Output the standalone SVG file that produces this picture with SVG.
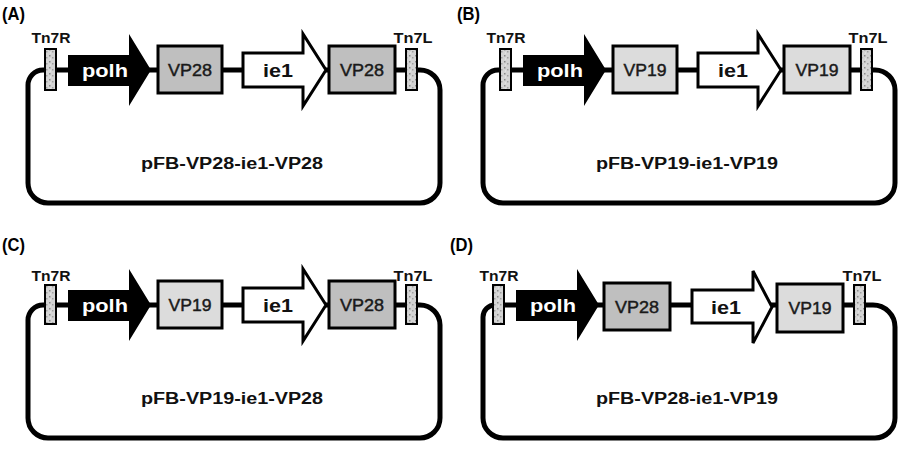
<svg xmlns="http://www.w3.org/2000/svg" width="902" height="449" viewBox="0 0 902 449">
<defs>
<pattern id="speck" width="6" height="6" patternUnits="userSpaceOnUse">
<rect width="6" height="6" fill="#d4d4d4"/>
<rect x="1" y="1" width="1.5" height="1.5" fill="#8a8a8a"/>
<rect x="4" y="3" width="1.5" height="1.5" fill="#a0a0a0"/>
<rect x="2" y="4.5" width="1" height="1" fill="#eeeeee"/>
</pattern>
</defs>
<style>
.bb{fill:none;stroke:#000;stroke-width:5}
.loop{fill:none;stroke:#000;stroke-width:5;stroke-linejoin:round}
.tn{fill:url(#speck);stroke:#000;stroke-width:2}
.polh{fill:#000}
.ie1{fill:#fff;stroke:#000;stroke-width:3;stroke-linejoin:miter}
.vp28{fill:#bfbfbf;stroke:#000;stroke-width:3}
.vp19{fill:#dcdcdc;stroke:#000;stroke-width:3}
text{font-family:"Liberation Sans",Arial,sans-serif}
.pl{font-size:18px;font-weight:bold;fill:#000}
.tl{font-size:15px;font-weight:bold;fill:#111;text-anchor:middle}
.wt{font-size:19px;font-weight:bold;fill:#fff;text-anchor:middle}
.bt{font-size:19px;font-weight:bold;fill:#111;text-anchor:middle}
.vt{font-size:17px;fill:#1a1a1a;stroke:#1a1a1a;stroke-width:0.45;text-anchor:middle}
.nm{font-size:16px;font-weight:bold;fill:#111;text-anchor:middle}
</style>

<g id="connectors">
  <g id="conn-A">
    <line class="bb" x1="55" y1="70" x2="406" y2="70"/>
    <path class="loop" d="M46,70 H43 A15,15 0 0 0 28,85 V183 A20,20 0 0 0 48,203 H420 A20,20 0 0 0 440,183 V90 A20,20 0 0 0 420,70 H417"/>
  </g>
  <g id="conn-B" transform="translate(455,0)">
    <line class="bb" x1="55" y1="70" x2="406" y2="70"/>
    <path class="loop" d="M46,70 H43 A15,15 0 0 0 28,85 V183 A20,20 0 0 0 48,203 H420 A20,20 0 0 0 440,183 V90 A20,20 0 0 0 420,70 H417"/>
  </g>
  <g id="conn-C" transform="translate(0,235)">
    <line class="bb" x1="55" y1="70" x2="406" y2="70"/>
    <path class="loop" d="M46,70 H43 A15,15 0 0 0 28,85 V183 A20,20 0 0 0 48,203 H420 A20,20 0 0 0 440,183 V90 A20,20 0 0 0 420,70 H417"/>
  </g>
  <g id="conn-D" transform="translate(455,235)">
    <line class="bb" x1="48" y1="70" x2="399" y2="70"/>
    <path class="loop" d="M40,70 A12,12 0 0 0 28,82 V183 A20,20 0 0 0 48,203 H420 A20,20 0 0 0 440,183 V92 A22,22 0 0 0 418,70 H410"/>
  </g>
</g>

<g id="panel-A">
  <text class="pl" x="2" y="20" textLength="23" lengthAdjust="spacingAndGlyphs">(A)</text>
  <g id="A-tn7r"><text class="tl" x="51" y="43" textLength="39" lengthAdjust="spacingAndGlyphs">Tn7R</text><rect class="tn" x="45" y="49" width="11" height="41"/></g>
  <g id="A-polh"><polygon class="polh" points="68,55 129,55 129,34 151,70 129,106 129,86 68,86"/><text class="wt" x="105" y="77" textLength="46" lengthAdjust="spacingAndGlyphs">polh</text></g>
  <g id="A-vp28a"><rect class="vp28" x="158" y="46" width="64" height="47"/><text class="vt" x="190" y="76" textLength="44" lengthAdjust="spacingAndGlyphs">VP28</text></g>
  <g id="A-ie1"><polygon class="ie1" points="243,53 303,53 303,34 326,70 303,106 303,87 243,87"/><text class="bt" x="278" y="77" textLength="30" lengthAdjust="spacingAndGlyphs">ie1</text></g>
  <g id="A-vp28b"><rect class="vp28" x="329" y="46" width="66" height="47"/><text class="vt" x="362" y="76" textLength="44" lengthAdjust="spacingAndGlyphs">VP28</text></g>
  <g id="A-tn7l"><text class="tl" x="413" y="43" textLength="39" lengthAdjust="spacingAndGlyphs">Tn7L</text><rect class="tn" x="406" y="49" width="11" height="41"/></g>
  <text class="nm" x="232" y="169" textLength="182" lengthAdjust="spacingAndGlyphs">pFB-VP28-ie1-VP28</text>
</g>

<g id="panel-B" transform="translate(455,0)">
  <text class="pl" x="2" y="20" textLength="23" lengthAdjust="spacingAndGlyphs">(B)</text>
  <g id="B-tn7r"><text class="tl" x="51" y="43" textLength="39" lengthAdjust="spacingAndGlyphs">Tn7R</text><rect class="tn" x="45" y="49" width="11" height="41"/></g>
  <g id="B-polh"><polygon class="polh" points="68,55 129,55 129,34 151,70 129,106 129,86 68,86"/><text class="wt" x="105" y="77" textLength="46" lengthAdjust="spacingAndGlyphs">polh</text></g>
  <g id="B-vp19a"><rect class="vp19" x="158" y="46" width="64" height="47"/><text class="vt" x="190" y="76" textLength="43" lengthAdjust="spacingAndGlyphs">VP19</text></g>
  <g id="B-ie1"><polygon class="ie1" points="243,53 303,53 303,34 326,70 303,106 303,87 243,87"/><text class="bt" x="278" y="77" textLength="30" lengthAdjust="spacingAndGlyphs">ie1</text></g>
  <g id="B-vp19b"><rect class="vp19" x="329" y="46" width="66" height="47"/><text class="vt" x="362" y="76" textLength="43" lengthAdjust="spacingAndGlyphs">VP19</text></g>
  <g id="B-tn7l"><text class="tl" x="413" y="43" textLength="39" lengthAdjust="spacingAndGlyphs">Tn7L</text><rect class="tn" x="406" y="49" width="11" height="41"/></g>
  <text class="nm" x="232" y="169" textLength="182" lengthAdjust="spacingAndGlyphs">pFB-VP19-ie1-VP19</text>
</g>

<g id="panel-C" transform="translate(0,235)">
  <text class="pl" x="2" y="16" textLength="23" lengthAdjust="spacingAndGlyphs">(C)</text>
  <g id="C-tn7r"><text class="tl" x="51" y="46" textLength="39" lengthAdjust="spacingAndGlyphs">Tn7R</text><rect class="tn" x="45" y="50" width="11" height="39"/></g>
  <g id="C-polh"><polygon class="polh" points="68,55 129,55 129,34 151,70 129,106 129,86 68,86"/><text class="wt" x="105" y="77" textLength="46" lengthAdjust="spacingAndGlyphs">polh</text></g>
  <g id="C-vp19"><rect class="vp19" x="158" y="46" width="64" height="47"/><text class="vt" x="190" y="76" textLength="43" lengthAdjust="spacingAndGlyphs">VP19</text></g>
  <g id="C-ie1"><polygon class="ie1" points="243,53 303,53 303,34 326,70 303,106 303,87 243,87"/><text class="bt" x="278" y="77" textLength="30" lengthAdjust="spacingAndGlyphs">ie1</text></g>
  <g id="C-vp28"><rect class="vp28" x="329" y="46" width="66" height="47"/><text class="vt" x="362" y="76" textLength="44" lengthAdjust="spacingAndGlyphs">VP28</text></g>
  <g id="C-tn7l"><text class="tl" x="413" y="46" textLength="39" lengthAdjust="spacingAndGlyphs">Tn7L</text><rect class="tn" x="406" y="50" width="11" height="39"/></g>
  <text class="nm" x="232" y="169" textLength="182" lengthAdjust="spacingAndGlyphs">pFB-VP19-ie1-VP28</text>
</g>

<g id="panel-D" transform="translate(448,235)">
  <text class="pl" x="2" y="16" textLength="23" lengthAdjust="spacingAndGlyphs">(D)</text>
  <g id="D-tn7r"><text class="tl" x="51" y="46" textLength="39" lengthAdjust="spacingAndGlyphs">Tn7R</text><rect class="tn" x="45" y="50" width="11" height="39"/></g>
  <g id="D-polh"><polygon class="polh" points="68,55 129,55 129,34 151,70 129,106 129,86 68,86"/><text class="wt" x="105" y="77" textLength="46" lengthAdjust="spacingAndGlyphs">polh</text></g>
  <g id="D-vp28"><rect class="vp28" x="156" y="48" width="66" height="47"/><text class="vt" x="189" y="78" textLength="44" lengthAdjust="spacingAndGlyphs">VP28</text></g>
  <g id="D-ie1"><polygon class="ie1" points="244,55 305,55 305,36 324,72 305,108 305,88 244,88"/><text class="bt" x="278" y="79" textLength="30" lengthAdjust="spacingAndGlyphs">ie1</text></g>
  <g id="D-vp19"><rect class="vp19" x="329" y="49" width="66" height="48"/><text class="vt" x="362" y="79" textLength="43" lengthAdjust="spacingAndGlyphs">VP19</text></g>
  <g id="D-tn7l"><text class="tl" x="414" y="46" textLength="39" lengthAdjust="spacingAndGlyphs">Tn7L</text><rect class="tn" x="406" y="50" width="11" height="39"/></g>
  <text class="nm" x="239" y="169" textLength="182" lengthAdjust="spacingAndGlyphs">pFB-VP28-ie1-VP19</text>
</g>
</svg>
